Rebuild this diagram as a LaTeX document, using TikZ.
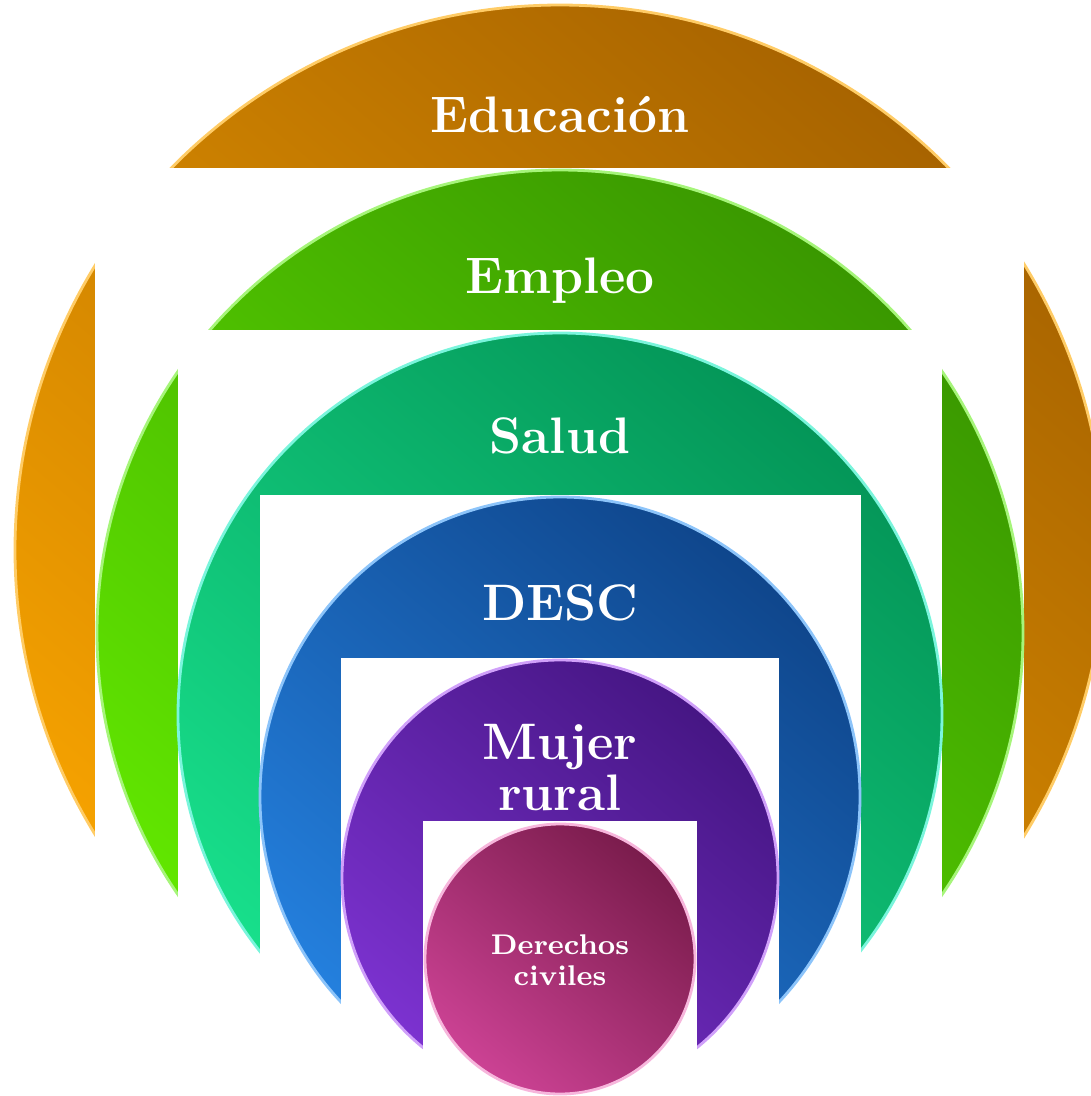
\documentclass[tikz,border=0pt]{standalone}
\usepackage{tikz}
\usetikzlibrary{backgrounds}

\definecolor{eduDark}{HTML}{A86400}
\definecolor{eduLight}{HTML}{F7A300}
\definecolor{eduRim}{HTML}{FFCC66}
\definecolor{empDark}{HTML}{3A9800}
\definecolor{empLight}{HTML}{62E800}
\definecolor{empRim}{HTML}{A6F57A}
\definecolor{salDark}{HTML}{049658}
\definecolor{salLight}{HTML}{18E08C}
\definecolor{salRim}{HTML}{7AF5DC}
\definecolor{descDark}{HTML}{0F468C}
\definecolor{descLight}{HTML}{2480DE}
\definecolor{descRim}{HTML}{8CC4FA}
\definecolor{mujDark}{HTML}{461684}
\definecolor{mujLight}{HTML}{7C32D0}
\definecolor{mujRim}{HTML}{D0A0FA}
\definecolor{derDark}{HTML}{7A1C4C}
\definecolor{derLight}{HTML}{CC4294}
\definecolor{derRim}{HTML}{F7B6DC}

\tikzset{
  ring/.style n args={3}{top color=#1, bottom color=#2, shading angle=-40, draw=#3, line width=0.8pt},
  cutout/.style={fill=white},
  biglabel/.style={text=white, anchor=base, align=center,
    font=\fontsize{14.6}{14.4}\selectfont\bfseries},
  smalllabel/.style={text=white, anchor=base, align=center,
    font=\fontsize{8.1}{8.6}\selectfont\bfseries}
}

\begin{document}
\begin{tikzpicture}[x=0.01cm, y=-0.01cm]

        \useasboundingbox (0,0) rectangle (1091,1096);
        \clip (0,0) rectangle (1091,1096);

        \shade[ring={eduDark}{eduLight}{eduRim}] (560,550) circle[radius=545];
        \fill[cutout] (95,168) rectangle (1024,1100);

        \shade[ring={empDark}{empLight}{empRim}] (560,633) circle[radius=463];
        \fill[cutout] (178,330) rectangle (942,1100);

        \shade[ring={salDark}{salLight}{salRim}] (560,715) circle[radius=382];
        \fill[cutout] (260,495) rectangle (861,1100);

        \shade[ring={descDark}{descLight}{descRim}] (560,797) circle[radius=300];
        \fill[cutout] (341,658) rectangle (779,1100);

        \shade[ring={mujDark}{mujLight}{mujRim}] (560,878) circle[radius=218];
        \fill[cutout] (423,821) rectangle (697,1100);

        \shade[ring={derDark}{derLight}{derRim}] (560,959) circle[radius=135];

        \node[biglabel] (educacion) at (560,132) {Educación};
        \node[biglabel] (empleo) at (560,293) {Empleo};
        \node[biglabel] (salud) at (560,453) {Salud};
        \node[biglabel] (desc) at (560,620) {DESC};
        \node[biglabel] (mujer) at (560,810) {Mujer\\rural};
        \node[smalllabel] (derechos) at (560,985) {Derechos\\civiles};

\end{tikzpicture}
\end{document}
